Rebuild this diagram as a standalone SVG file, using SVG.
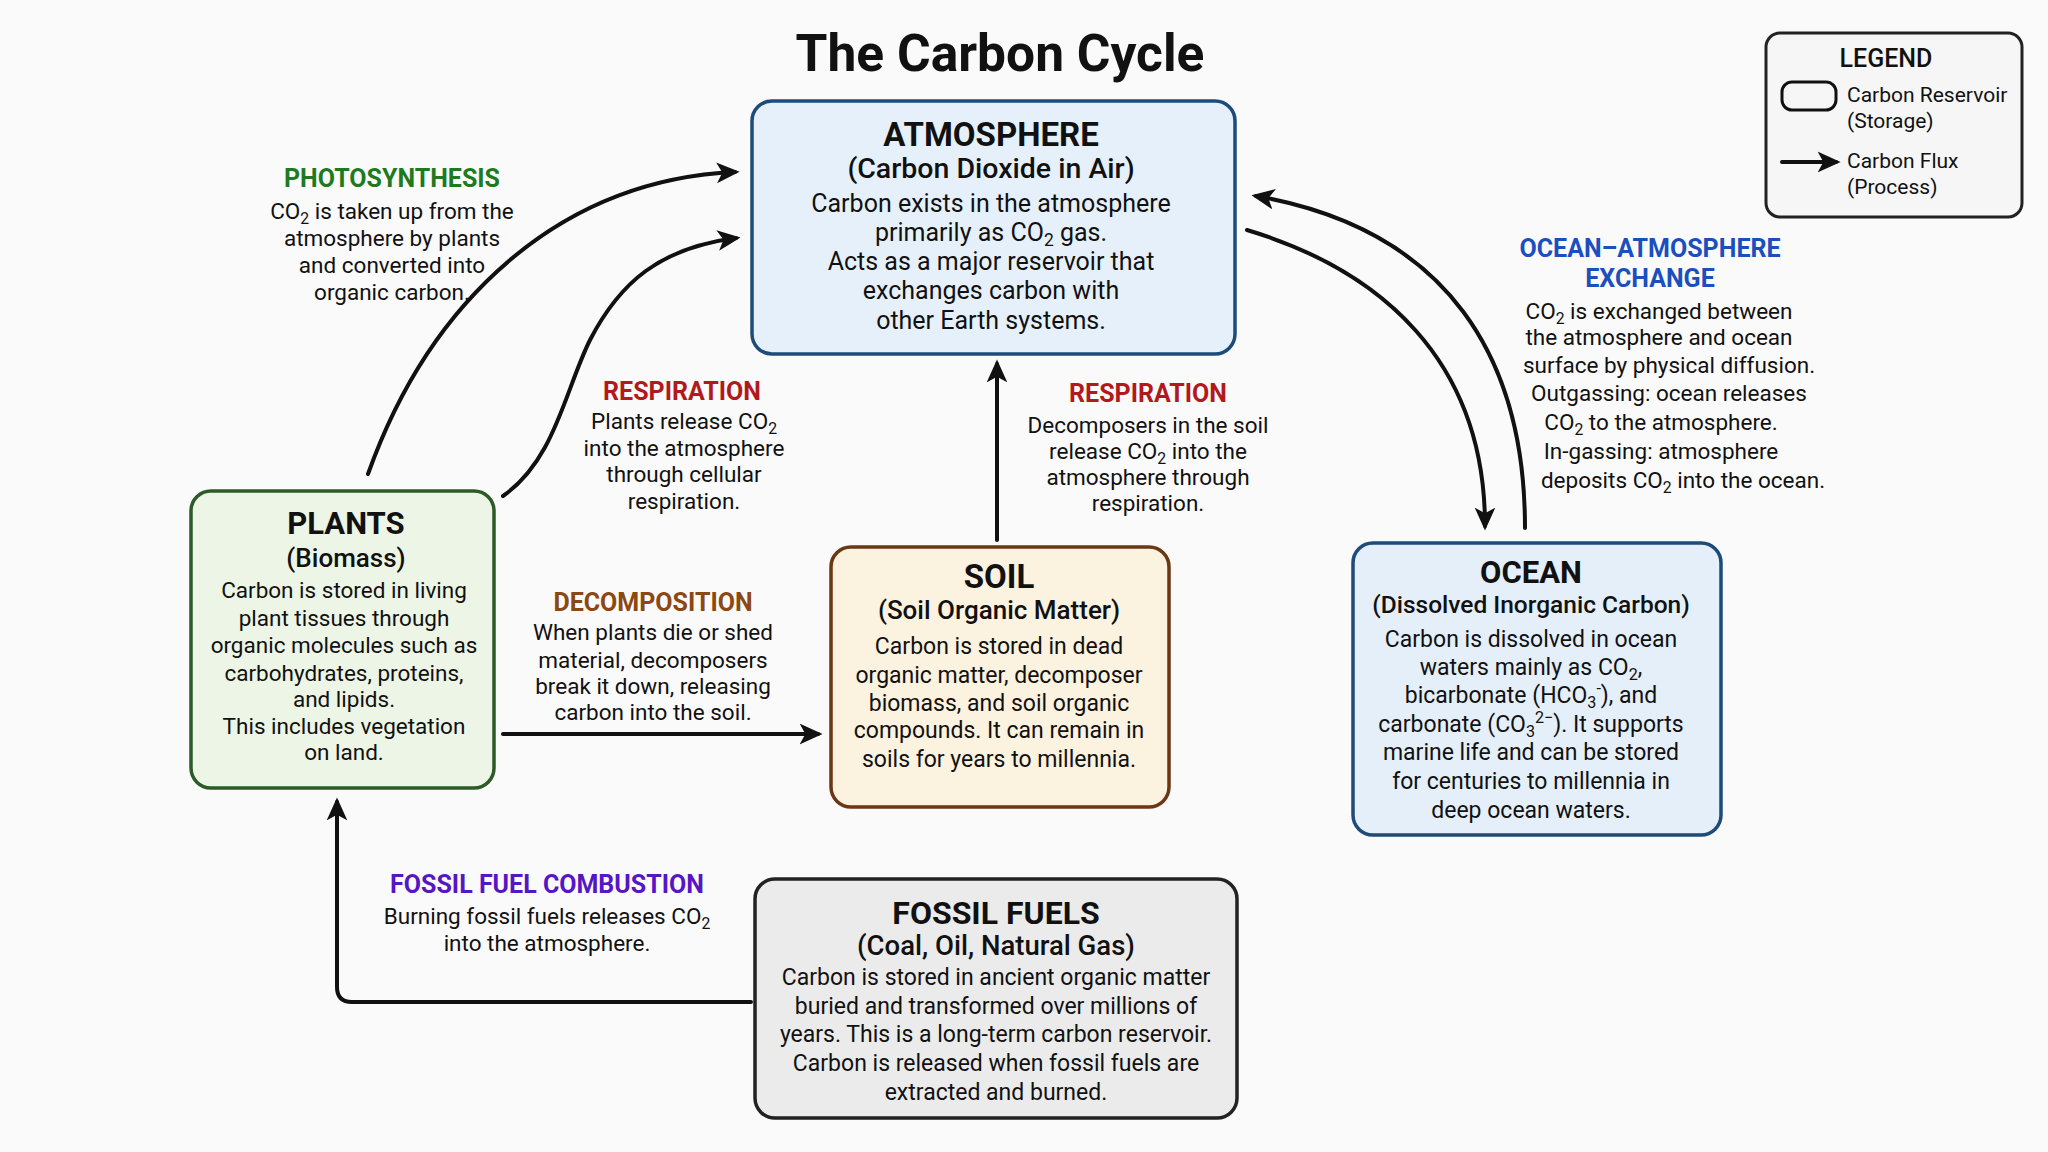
<svg xmlns="http://www.w3.org/2000/svg" width="2048" height="1152" viewBox="0 0 2048 1152">
<defs>
<marker id="ah" viewBox="0 0 20 20" refX="16" refY="10" markerWidth="23" markerHeight="23" markerUnits="userSpaceOnUse" orient="auto">
<path d="M0,1 L20,10 L0,19 L5,10 Z" fill="#111"/>
</marker>
</defs>
<style>
text{font-family:Roboto,"Liberation Sans",sans-serif;fill:#111;text-anchor:middle}
.title{font-size:51.5px;font-weight:700}
.bt{font-size:31px;font-weight:700}
.bs{font-size:26px;font-weight:500}
.bb{font-size:23px}
.lh{font-size:25px;font-weight:700}
.lb{font-size:22.5px}
.lg{font-size:21px;text-anchor:start}
.box{stroke-width:3.5}
.con{fill:none;stroke:#111;stroke-width:4;stroke-linecap:round;stroke-linejoin:round;marker-end:url(#ah)}
.sub{font-size:70%}
</style>
<rect width="2048" height="1152" fill="#fafafa"/>
<text class="title" x="1000" y="71">The Carbon Cycle</text>

<g id="legend">
<rect x="1766" y="33" width="256" height="184" rx="14" fill="#f6f6f6" stroke="#222" stroke-width="3"/>
<text x="1886" y="67" style="font-size:25px;font-weight:500">LEGEND</text>
<rect x="1782" y="82" width="54" height="28" rx="10" fill="none" stroke="#111" stroke-width="3"/>
<text class="lg" x="1847" y="102">Carbon Reservoir</text>
<text class="lg" x="1847" y="128">(Storage)</text>
<line x1="1782" y1="162" x2="1836" y2="162" class="con"/>
<text class="lg" x="1847" y="168">Carbon Flux</text>
<text class="lg" x="1847" y="194">(Process)</text>
</g>

<g id="connectors">
<path class="con" d="M368 474 C430 300 560 180 735 172"/>
<path class="con" d="M503 496 C555 460 565 390 590 340 C620 282 660 248 736 238"/>
<path class="con" d="M997 540 V364"/>
<path class="con" d="M503 734 H818"/>
<path class="con" d="M751 1002 H352 Q337 1002 337 987 V802"/>
<path class="con" d="M1247 230 C1380 270 1485 360 1485 526"/>
<path class="con" d="M1525 528 C1525 360 1450 230 1256 196"/>
</g>

<g id="atmosphere">
<rect class="box" x="752" y="101" width="483" height="253" rx="20" fill="#e6f0fb" stroke="#1d4b7a"/>
<text class="bt" x="991" y="146" style="font-size:33px">ATMOSPHERE</text>
<text class="bs" x="991" y="178" style="font-size:28.5px">(Carbon Dioxide in Air)</text>
<text class="bb" x="991" y="212" style="font-size:25px">Carbon exists in the atmosphere</text>
<text class="bb" x="991" y="241" style="font-size:25px">primarily as CO<tspan class="sub" dy="5">2</tspan><tspan dy="-5"> gas.</tspan></text>
<text class="bb" x="991" y="270" style="font-size:25px">Acts as a major reservoir that</text>
<text class="bb" x="991" y="299" style="font-size:25px">exchanges carbon with</text>
<text class="bb" x="991" y="329" style="font-size:25px">other Earth systems.</text>
</g>

<g id="plants">
<rect class="box" x="191" y="491" width="303" height="297" rx="20" fill="#edf5e6" stroke="#2c5a28"/>
<text class="bt" x="346" y="534">PLANTS</text>
<text class="bs" x="346" y="567">(Biomass)</text>
<text class="bb" x="344" y="598" style="font-size:22.5px">Carbon is stored in living</text>
<text class="bb" x="344" y="626" style="font-size:22.5px">plant tissues through</text>
<text class="bb" x="344" y="653" style="font-size:22.5px">organic molecules such as</text>
<text class="bb" x="344" y="681" style="font-size:22.5px">carbohydrates, proteins,</text>
<text class="bb" x="344" y="707" style="font-size:22.5px">and lipids.</text>
<text class="bb" x="344" y="734" style="font-size:22.5px">This includes vegetation</text>
<text class="bb" x="344" y="760" style="font-size:22.5px">on land.</text>
</g>

<g id="soil">
<rect class="box" x="831" y="547" width="338" height="260" rx="20" fill="#fbf2df" stroke="#6b3816"/>
<text class="bt" x="999" y="588" style="font-size:33px">SOIL</text>
<text class="bs" x="999" y="619">(Soil Organic Matter)</text>
<text class="bb" x="999" y="654">Carbon is stored in dead</text>
<text class="bb" x="999" y="683">organic matter, decomposer</text>
<text class="bb" x="999" y="711">biomass, and soil organic</text>
<text class="bb" x="999" y="738">compounds. It can remain in</text>
<text class="bb" x="999" y="767">soils for years to millennia.</text>
</g>

<g id="ocean">
<rect class="box" x="1353" y="543" width="368" height="292" rx="20" fill="#e4eff9" stroke="#1d4b7a"/>
<text class="bt" x="1531" y="583">OCEAN</text>
<text class="bs" x="1531" y="613" style="font-size:24.5px">(Dissolved Inorganic Carbon)</text>
<text class="bb" x="1531" y="647">Carbon is dissolved in ocean</text>
<text class="bb" x="1531" y="675">waters mainly as CO<tspan class="sub" dy="5">2</tspan><tspan dy="-5">,</tspan></text>
<text class="bb" x="1531" y="703">bicarbonate (HCO<tspan class="sub" dy="5">3</tspan><tspan class="sub" dy="-14">-</tspan><tspan dy="9">), and</tspan></text>
<text class="bb" x="1531" y="732">carbonate (CO<tspan class="sub" dy="5">3</tspan><tspan class="sub" dy="-14">2−</tspan><tspan dy="9">). It supports</tspan></text>
<text class="bb" x="1531" y="760">marine life and can be stored</text>
<text class="bb" x="1531" y="789">for centuries to millennia in</text>
<text class="bb" x="1531" y="818">deep ocean waters.</text>
</g>

<g id="fossil-fuels">
<rect class="box" x="755" y="879" width="482" height="239" rx="20" fill="#ebebeb" stroke="#222"/>
<text class="bt" x="996" y="924" style="font-size:32px">FOSSIL FUELS</text>
<text class="bs" x="996" y="955" style="font-size:27.5px">(Coal, Oil, Natural Gas)</text>
<text class="bb" x="996" y="985">Carbon is stored in ancient organic matter</text>
<text class="bb" x="996" y="1014">buried and transformed over millions of</text>
<text class="bb" x="996" y="1042">years. This is a long-term carbon reservoir.</text>
<text class="bb" x="996" y="1071">Carbon is released when fossil fuels are</text>
<text class="bb" x="996" y="1100">extracted and burned.</text>
</g>

<g id="label-photosynthesis">
<text class="lh" x="392" y="187" style="fill:#1e7a1e">PHOTOSYNTHESIS</text>
<text class="lb" x="392" y="219">CO<tspan class="sub" dy="5">2</tspan><tspan dy="-5"> is taken up from the</tspan></text>
<text class="lb" x="392" y="246">atmosphere by plants</text>
<text class="lb" x="392" y="273">and converted into</text>
<text class="lb" x="392" y="300">organic carbon.</text>
</g>

<g id="label-respiration-plants">
<text class="lh" x="682" y="400" style="fill:#b3191c">RESPIRATION</text>
<text class="lb" x="684" y="429">Plants release CO<tspan class="sub" dy="5">2</tspan></text>
<text class="lb" x="684" y="456">into the atmosphere</text>
<text class="lb" x="684" y="482">through cellular</text>
<text class="lb" x="684" y="509">respiration.</text>
</g>

<g id="label-respiration-soil">
<text class="lh" x="1148" y="402" style="fill:#b3191c">RESPIRATION</text>
<text class="lb" x="1148" y="433">Decomposers in the soil</text>
<text class="lb" x="1148" y="459">release CO<tspan class="sub" dy="5">2</tspan><tspan dy="-5"> into the</tspan></text>
<text class="lb" x="1148" y="485">atmosphere through</text>
<text class="lb" x="1148" y="511">respiration.</text>
</g>

<g id="label-ocean-atmosphere">
<text class="lh" x="1650" y="257" style="fill:#1a4fbf">OCEAN–ATMOSPHERE</text>
<text class="lh" x="1650" y="287" style="fill:#1a4fbf">EXCHANGE</text>
<text class="lb" x="1659" y="319">CO<tspan class="sub" dy="5">2</tspan><tspan dy="-5"> is exchanged between</tspan></text>
<text class="lb" x="1659" y="345">the atmosphere and ocean</text>
<text class="lb" x="1669" y="373">surface by physical diffusion.</text>
<text class="lb" x="1669" y="401">Outgassing: ocean releases</text>
<text class="lb" x="1661" y="430">CO<tspan class="sub" dy="5">2</tspan><tspan dy="-5"> to the atmosphere.</tspan></text>
<text class="lb" x="1661" y="459">In-gassing: atmosphere</text>
<text class="lb" x="1683" y="488">deposits CO<tspan class="sub" dy="5">2</tspan><tspan dy="-5"> into the ocean.</tspan></text>
</g>

<g id="label-decomposition">
<text class="lh" x="653" y="611" style="fill:#8b4812">DECOMPOSITION</text>
<text class="lb" x="653" y="640">When plants die or shed</text>
<text class="lb" x="653" y="668">material, decomposers</text>
<text class="lb" x="653" y="694">break it down, releasing</text>
<text class="lb" x="653" y="720">carbon into the soil.</text>
</g>

<g id="label-fossil-combustion">
<text class="lh" x="547" y="893" style="fill:#5716c4">FOSSIL FUEL COMBUSTION</text>
<text class="lb" x="547" y="924">Burning fossil fuels releases CO<tspan class="sub" dy="5">2</tspan></text>
<text class="lb" x="547" y="951">into the atmosphere.</text>
</g>
</svg>
